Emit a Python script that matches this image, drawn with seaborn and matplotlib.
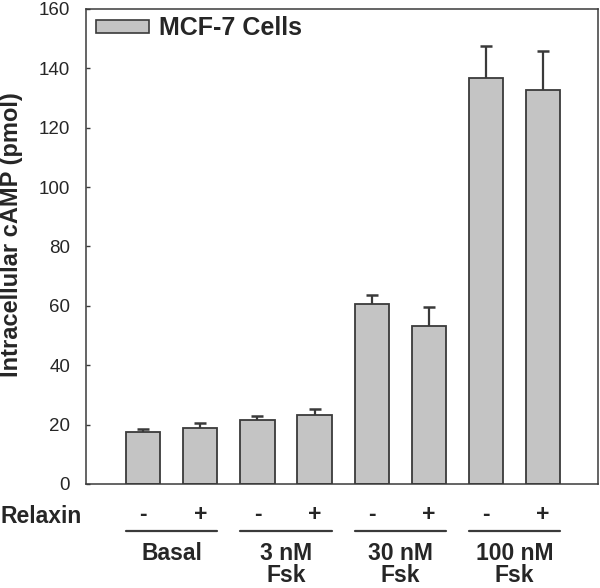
import numpy as np
import pandas as pd
import seaborn as sns
import matplotlib
import matplotlib.pyplot as plt
import matplotlib.transforms as mtransforms
from matplotlib.patches import Patch
matplotlib.use('Agg')

# data
groups = ["Basal", "3 nM\nFsk", "30 nM\nFsk", "100 nM\nFsk"]
relaxin = ["-", "+"]
camp = [17.6, 19.0, 21.7, 23.1, 60.6, 53.1, 136.8, 132.8]
sem = [1.0, 1.6, 1.2, 2.3, 3.0, 6.5, 10.8, 13.0]
yticks = [0, 20, 40, 60, 80, 100, 120, 140, 160]

cond = [f"{g}|{r}" for g in groups for r in relaxin]
df = pd.DataFrame({"cond": cond, "cAMP": camp, "sem": sem})
df["top"] = df["cAMP"] + df["sem"]

sns.set_style("ticks")
plt.rcParams['font.family'] = ['Liberation Sans', 'DejaVu Sans']
ink = "#262626"
edge = "#3a3a3a"

fig = plt.figure(figsize=(6, 5.88), dpi=100)
ax = fig.add_axes([0.1433, 0.1769, 0.8534, 0.8078])

sns.barplot(data=df, x="cond", y="cAMP", order=cond, color="#c4c4c4",
            width=0.6, edgecolor=edge, linewidth=1.3, saturation=1,
            errorbar=None, ax=ax, zorder=2)

# upper-only error bars (stem + cap)
xpos = np.arange(len(cond))
ax.vlines(xpos, df["cAMP"], df["top"], color=edge, lw=1.6, zorder=1)
ax.hlines(df["top"], xpos - 0.105, xpos + 0.105, color=edge, lw=1.8,
          zorder=1)

ax.set_xlim(-1.0, 7.96)
ax.set_ylim(0, 160)
ax.set_yticks(yticks)
ax.set_xticks([])
ax.set_xlabel("")
ax.tick_params(axis="y", direction="in", length=3, width=1, color=edge,
               pad=11.5, labelsize=13.5, labelcolor=ink)
for s in ax.spines.values():
    s.set_visible(True)
    s.set_linewidth(1.1)
    s.set_color(edge)

ax.set_ylabel("Intracellular cAMP (pmol)", fontsize=17, fontweight="bold",
              color=ink)
ax.yaxis.set_label_coords(-0.123, 0.526)

ax.legend(handles=[Patch(facecolor="#c4c4c4", edgecolor=edge, linewidth=1.2,
                         label="MCF-7 Cells")],
          loc="upper left", bbox_to_anchor=(0.0195, 0.985), frameon=False,
          borderpad=0, borderaxespad=0, handlelength=2.12, handleheight=0.42,
          handletextpad=0.42, prop={"size": 18, "weight": "bold"},
          labelcolor=ink)

# annotation rows under the axis
trans = mtransforms.blended_transform_factory(ax.transData, ax.transAxes)
bold = {"fontsize": 16.5, "fontweight": "bold", "color": ink}
for i, c in enumerate(cond):
    ax.text(i, -0.065, c.split("|")[1], ha="center", va="center",
            transform=trans, clip_on=False, **bold)
for g, name in enumerate(groups):
    x0, x1 = 2 * g - 0.3, 2 * g + 1.3
    ax.plot([x0, x1], [-0.1, -0.1], color=edge, lw=1.6,
            transform=trans, clip_on=False)
    for k, line in enumerate(name.split("\n")):
        ax.text(2 * g + 0.5, -0.16 - 0.047 * k, line, ha="center",
                va="baseline", transform=trans, clip_on=False, **bold)

fig.text(0.0, 1 - 523 / 588, "Relaxin", ha="left", va="baseline", **bold)

fig.savefig("out.png", dpi=100)
